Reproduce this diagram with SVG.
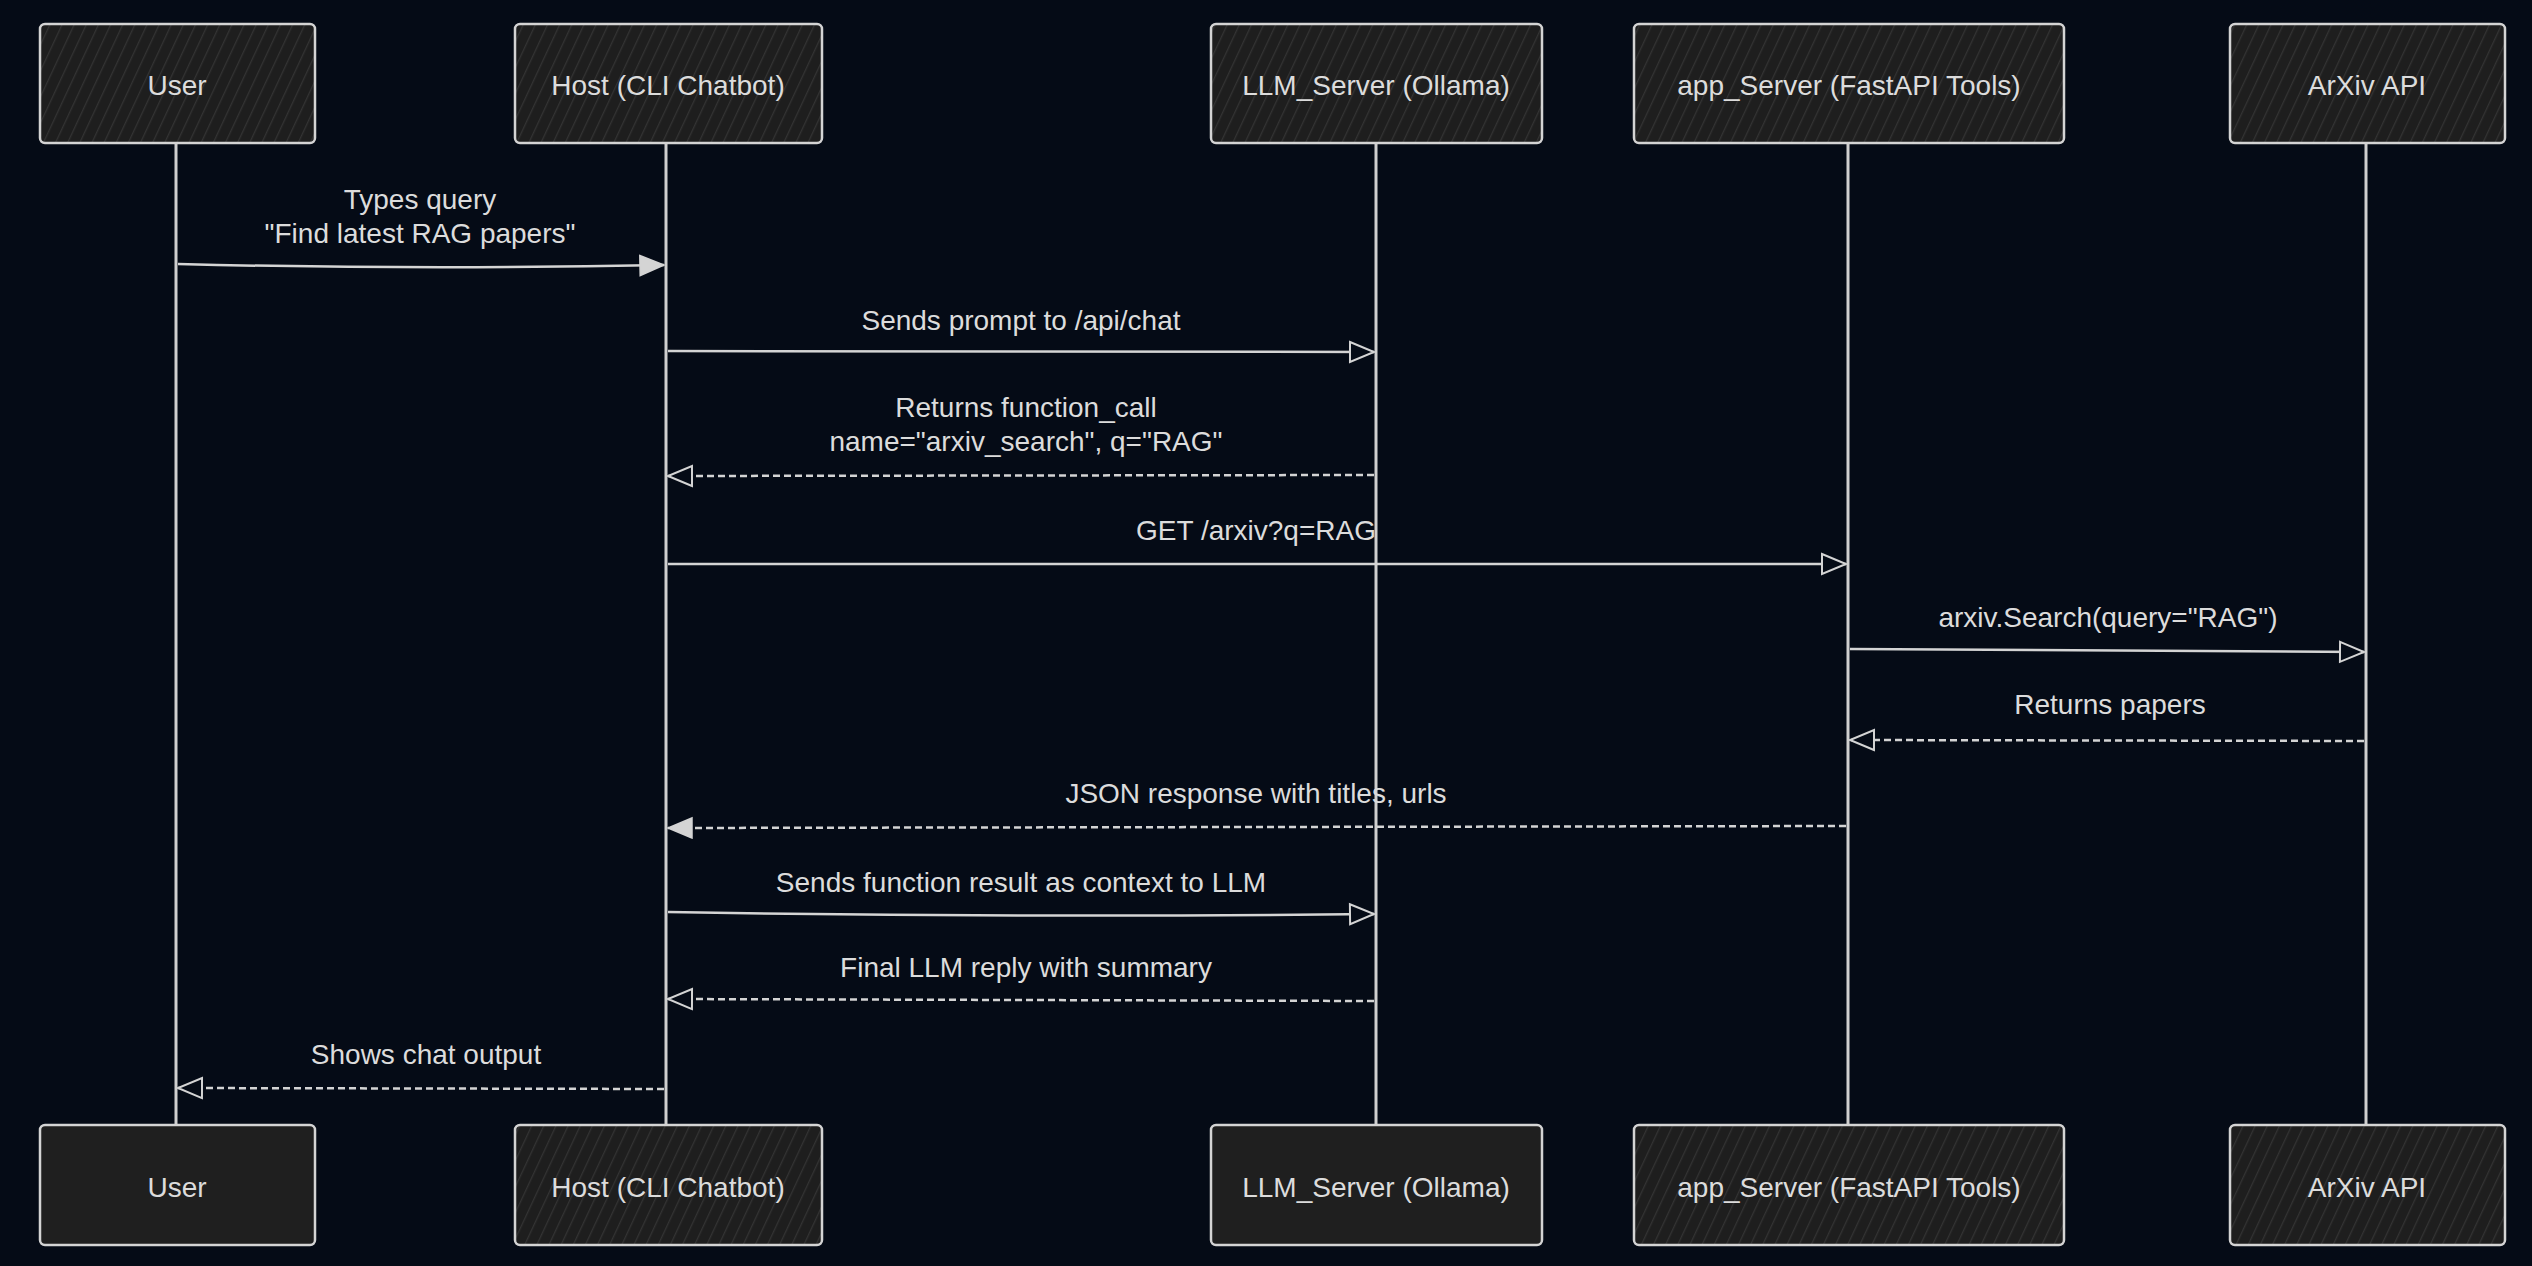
<svg xmlns="http://www.w3.org/2000/svg" width="2532" height="1266" viewBox="0 0 2532 1266">
<defs>
<style>
.bg{fill:#050b16}
.box{stroke:#d4d4d4;stroke-width:2.5}
.hatch{fill:url(#hatch)}
.solid{fill:#1f1f1f}
.lbl{font-family:"Liberation Sans","DejaVu Sans",sans-serif;font-size:28px;fill:#dcdcdc;text-anchor:middle;dominant-baseline:central}
.life{stroke:#cfcfcf;stroke-width:3;fill:none}
.msg{stroke:#d4d4d4;stroke-width:2.5;fill:none}
.dash{stroke-dasharray:7 4}
</style>
<pattern id="hatch" patternUnits="userSpaceOnUse" width="11" height="11" patternTransform="rotate(25)">
<rect width="11" height="11" fill="#1e1e1e"/>
<line x1="0" y1="0" x2="0" y2="11" stroke="#333333" stroke-width="2.5"/>
</pattern>
<marker id="afill" markerUnits="userSpaceOnUse" markerWidth="30" markerHeight="24" refX="26" refY="12" orient="auto">
<path d="M2,2 L26,12 L2,22 Z" fill="#d4d4d4" stroke="#d4d4d4" stroke-width="1.5"/>
</marker>
<marker id="aopen" markerUnits="userSpaceOnUse" markerWidth="30" markerHeight="24" refX="26" refY="12" orient="auto">
<path d="M2,2 L26,12 L2,22 Z" fill="#050b16" stroke="#d4d4d4" stroke-width="2"/>
</marker>
</defs>
<rect class="bg" x="0" y="0" width="2532" height="1266"/>

<g id="lifelines">
<line class="life" x1="176" y1="143" x2="176" y2="1125"/>
<line class="life" x1="666" y1="143" x2="666" y2="1125"/>
<line class="life" x1="1376" y1="143" x2="1376" y2="1125"/>
<line class="life" x1="1848" y1="143" x2="1848" y2="1125"/>
<line class="life" x1="2366" y1="143" x2="2366" y2="1125"/>
</g>

<g id="node-user-top"><rect class="box hatch" x="40" y="24" width="275" height="119" rx="5"/><text class="lbl" x="177" y="85">User</text></g>
<g id="node-host-top"><rect class="box hatch" x="515" y="24" width="307" height="119" rx="5"/><text class="lbl" x="668" y="85">Host (CLI Chatbot)</text></g>
<g id="node-llm-top"><rect class="box hatch" x="1211" y="24" width="331" height="119" rx="5"/><text class="lbl" x="1376" y="85">LLM_Server (Ollama)</text></g>
<g id="node-app-top"><rect class="box hatch" x="1634" y="24" width="430" height="119" rx="5"/><text class="lbl" x="1849" y="85">app_Server (FastAPI Tools)</text></g>
<g id="node-arxiv-top"><rect class="box hatch" x="2230" y="24" width="275" height="119" rx="5"/><text class="lbl" x="2367" y="85">ArXiv API</text></g>

<g id="node-user-bottom"><rect class="box solid" x="40" y="1125" width="275" height="120" rx="5"/><text class="lbl" x="177" y="1187">User</text></g>
<g id="node-host-bottom"><rect class="box hatch" x="515" y="1125" width="307" height="120" rx="5"/><text class="lbl" x="668" y="1187">Host (CLI Chatbot)</text></g>
<g id="node-llm-bottom"><rect class="box solid" x="1211" y="1125" width="331" height="120" rx="5"/><text class="lbl" x="1376" y="1187">LLM_Server (Ollama)</text></g>
<g id="node-app-bottom"><rect class="box hatch" x="1634" y="1125" width="430" height="120" rx="5"/><text class="lbl" x="1849" y="1187">app_Server (FastAPI Tools)</text></g>
<g id="node-arxiv-bottom"><rect class="box hatch" x="2230" y="1125" width="275" height="120" rx="5"/><text class="lbl" x="2367" y="1187">ArXiv API</text></g>

<g id="connectors">
<path class="msg" d="M178,264 Q420,270 664,265" marker-end="url(#afill)"/>
<text class="lbl" x="420" y="199">Types query</text>
<text class="lbl" x="420" y="233">"Find latest RAG papers"</text>

<path class="msg" d="M668,351 L1374,352" marker-end="url(#aopen)"/>
<text class="lbl" x="1021" y="320">Sends prompt to /api/chat</text>

<path class="msg dash" d="M1374,475 L668,476" marker-end="url(#aopen)"/>
<text class="lbl" x="1026" y="407">Returns function_call</text>
<text class="lbl" x="1026" y="441">name="arxiv_search", q="RAG"</text>

<path class="msg" d="M668,564 L1846,564" marker-end="url(#aopen)"/>
<text class="lbl" x="1256" y="530">GET /arxiv?q=RAG</text>

<path class="msg" d="M1850,649 L2364,652" marker-end="url(#aopen)"/>
<text class="lbl" x="2108" y="617">arxiv.Search(query="RAG")</text>

<path class="msg dash" d="M2364,741 L1850,740" marker-end="url(#aopen)"/>
<text class="lbl" x="2110" y="704">Returns papers</text>

<path class="msg dash" d="M1846,826 L668,828" marker-end="url(#afill)"/>
<text class="lbl" x="1256" y="793">JSON response with titles, urls</text>

<path class="msg" d="M668,912 Q1020,918 1374,914" marker-end="url(#aopen)"/>
<text class="lbl" x="1021" y="882">Sends function result as context to LLM</text>

<path class="msg dash" d="M1374,1001 L668,999" marker-end="url(#aopen)"/>
<text class="lbl" x="1026" y="967">Final LLM reply with summary</text>

<path class="msg dash" d="M664,1089 L178,1088" marker-end="url(#aopen)"/>
<text class="lbl" x="426" y="1054">Shows chat output</text>
</g>
</svg>
